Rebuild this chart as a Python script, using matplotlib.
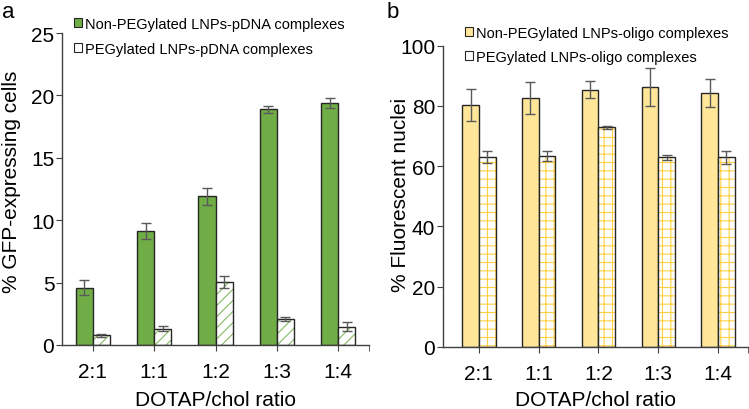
import numpy as np
import matplotlib
matplotlib.use("Agg")
import matplotlib.pyplot as plt
from matplotlib.patches import Patch

plt.rcParams['font.family'] = ['Liberation Sans', 'DejaVu Sans']
plt.rcParams['hatch.linewidth'] = 0.8

ratios = ['2:1', '1:1', '1:2', '1:3', '1:4']

# panel a: GFP-expressing cells
gfp_non = [4.6, 9.15, 11.9, 18.9, 19.4]
gfp_non_err = [0.6, 0.65, 0.65, 0.28, 0.42]
gfp_peg = [0.78, 1.32, 5.05, 2.12, 1.48]
gfp_peg_err = [0.13, 0.17, 0.5, 0.16, 0.34]

# panel b: fluorescent nuclei
fl_non = [80.2, 82.7, 85.4, 86.3, 84.3]
fl_non_err = [5.3, 5.3, 2.9, 6.2, 4.6]
fl_peg = [63.2, 63.5, 72.9, 62.9, 63.0]
fl_peg_err = [2.0, 1.7, 0.6, 0.8, 2.2]

green = '#70AD47'
yellow = '#FFE699'
orange = (1.0, 0.75, 0.0, 0.75)
edge = '#262626'
errc = '#595959'
axc = '#404040'
fs = 15

fig = plt.figure(figsize=(7.49, 4.10), dpi=100)
ax1 = fig.add_axes([62/749, 1-346/410, 307/749, 312/410])
ax2 = fig.add_axes([443/749, 1-348/410, 305/749, 301.3/410])

x = np.arange(len(ratios))
w = 0.28


def draw(ax, non, non_err, peg, peg_err, fill, hcol, hatch, xlo, lpad):
    ax.bar(x - w/2, non, w, color=fill, edgecolor=edge, linewidth=1.0, zorder=2)
    ax.bar(x + w/2, peg, w, color='white', edgecolor=hcol, hatch=hatch, linewidth=0, zorder=2)
    ax.bar(x + w/2, peg, w, fill=False, edgecolor=edge, linewidth=1.0, zorder=3)
    ax.errorbar(x - w/2, non, yerr=non_err, fmt='none', ecolor=errc, elinewidth=1.0,
                capsize=3.5, capthick=1.0, zorder=4)
    ax.errorbar(x + w/2, peg, yerr=peg_err, fmt='none', ecolor=errc, elinewidth=1.0,
                capsize=3.5, capthick=1.0, zorder=4)
    ax.set_xlim(xlo, 4.5)
    ax.set_xticks(x)
    ax.set_xticklabels(ratios, fontsize=fs)
    ax.set_xticks([4.5], minor=True)
    ax.tick_params(axis='x', which='both', direction='out', length=4.5, color=axc, pad=8)
    ax.tick_params(axis='y', direction='out', length=4, color=axc, labelsize=fs, pad=1.5)
    for s in ['top', 'right']:
        ax.spines[s].set_visible(False)
    for s in ['left', 'bottom']:
        ax.spines[s].set_color(axc)
        ax.spines[s].set_linewidth(1.0)
    ax.set_xlabel('DOTAP/chol ratio', fontsize=fs, labelpad=lpad)
    handles = [Patch(facecolor=fill, edgecolor=edge, linewidth=0.8),
               Patch(facecolor='white', edgecolor=edge, linewidth=0.8)]
    return handles


h = draw(ax1, gfp_non, gfp_non_err, gfp_peg, gfp_peg_err, green, (0.44, 0.68, 0.28, 0.85),
         '///', -0.5, 6)
ax1.set_ylim(0, 25)
ax1.set_yticks([0, 5, 10, 15, 20, 25])
ax1.legend(h, ['Non-PEGylated LNPs-pDNA complexes', 'PEGylated LNPs-pDNA complexes'],
           loc='upper left', bbox_to_anchor=(12/307, 1+16/312), frameon=False, fontsize=10.5,
           handlelength=0.55, handleheight=0.55, handletextpad=0.2, labelspacing=0.75,
           borderpad=0, borderaxespad=0)

h = draw(ax2, fl_non, fl_non_err, fl_peg, fl_peg_err, yellow, orange, '++', -0.6, 5)
ax2.set_ylim(0, 100)
ax2.set_yticks([0, 20, 40, 60, 80, 100])
ax2.legend(h, ['Non-PEGylated LNPs-oligo complexes', 'PEGylated LNPs-oligo complexes'],
           loc='upper left', bbox_to_anchor=(22/305, 1+20/301.3), frameon=False, fontsize=10.5,
           handlelength=0.55, handleheight=0.55, handletextpad=0.2, labelspacing=0.7,
           borderpad=0, borderaxespad=0)

fig.text(12/749, 1-182/410, '% GFP-expressing cells', fontsize=fs, rotation=90,
         ha='center', va='center')
fig.text(401/749, 1-195/410, '% Fluorescent nuclei', fontsize=fs, rotation=90,
         ha='center', va='center')

fig.text(2/749, 1-12/410, 'a', fontsize=16, va='center', ha='left')
fig.text(387/749, 1-13/410, 'b', fontsize=16, va='center', ha='left')

fig.savefig('out.png', dpi=100)
